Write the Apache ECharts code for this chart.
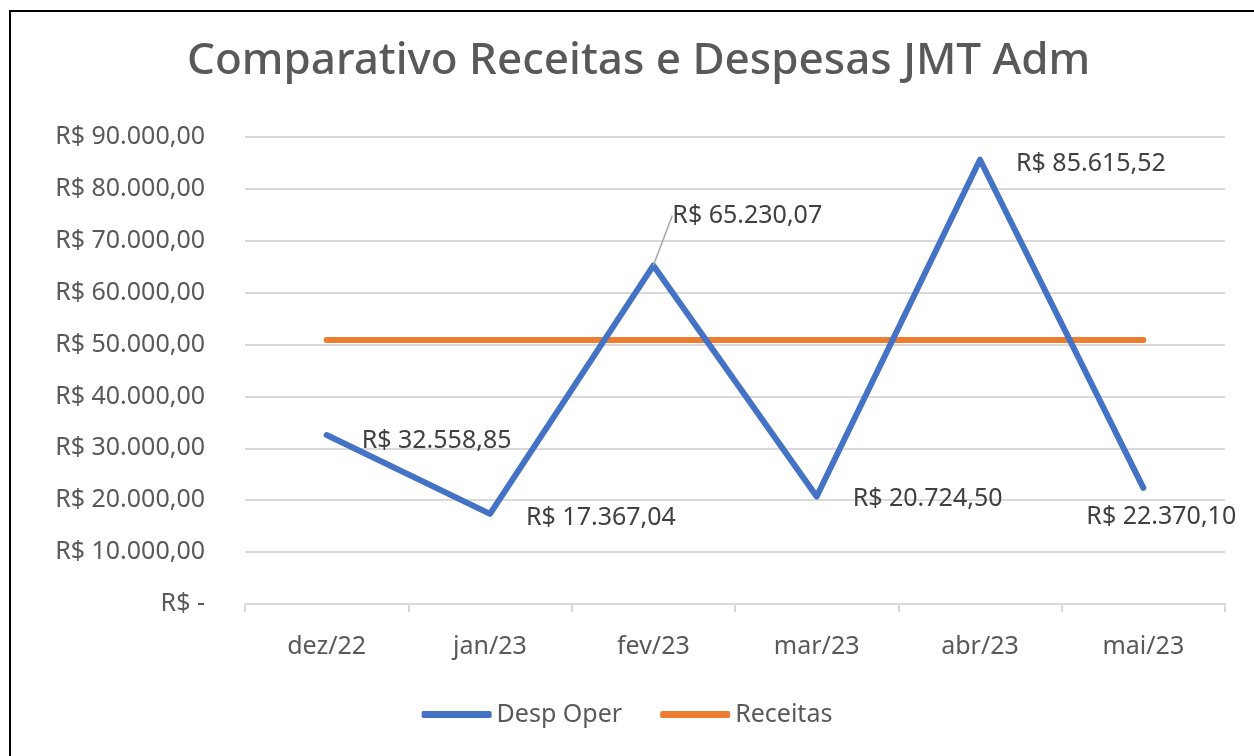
<!DOCTYPE html>
<html>
<head>
<meta charset="utf-8">
<script src="https://cdn.jsdelivr.net/npm/echarts@6/dist/echarts.min.js"></script>
<style>
  html, body { margin: 0; padding: 0; background: #fff; }
  #chart { width: 1254px; height: 756px; }
</style>
</head>
<body>
<div id="chart"></div>
<script>
// dados
var meses = ['dez/22', 'jan/23', 'fev/23', 'mar/23', 'abr/23', 'mai/23'];
var despOper = [32558.85, 17367.04, 65230.07, 20724.50, 85615.52, 22370.10];
var receitas = [50900, 50900, 50900, 50900, 50900, 50900];

var fonte = 'Noto Sans';

function moeda(v) {
    if (v === 0) return 'R$ -';
    var partes = v.toFixed(2).split('.');
    var inteiro = partes[0].replace(/\B(?=(\d{3})+(?!\d))/g, '.');
    return 'R$ ' + inteiro + ',' + partes[1];
}

// deslocamento dos rótulos de cada ponto (parecido com o Excel)
var desloc = [[30, 6], [31, 4], [14, -50], [31, 2], [31, 4], [-62, 29]];

var despData = despOper.map(function (v, i) {
    return {
        value: v,
        labelLine: { show: i === 2 }
    };
});

var myChart = echarts.init(document.getElementById('chart'));

var option = {
    animation: false,
    title: {
        text: 'Comparativo Receitas e Despesas JMT Adm',
        left: 182,
        top: 34,
        textStyle: {
            fontFamily: fonte,
            fontSize: 44,
            fontWeight: 500,
            color: '#595959'
        }
    },
    graphic: [{
        type: 'rect',
        shape: { x: 10, y: 11, width: 1260, height: 770 },
        style: { fill: 'none', stroke: '#000', lineWidth: 2 },
        silent: true
    }],
    legend: {
        bottom: 24,
        left: 'center',
        icon: 'roundRect',
        itemWidth: 70,
        itemHeight: 7,
        itemGap: 38,
        textStyle: { fontFamily: fonte, fontSize: 25, color: '#595959' },
        data: ['Desp Oper', 'Receitas']
    },
    grid: { left: 245, right: 29, top: 137, bottom: 152 },
    xAxis: {
        type: 'category',
        data: meses,
        axisLine: { lineStyle: { color: '#D9D9D9', width: 2 } },
        axisTick: { show: true, length: 8, lineStyle: { color: '#D9D9D9', width: 2 } },
        axisLabel: { margin: 30, fontFamily: fonte, fontSize: 25, color: '#595959' }
    },
    yAxis: {
        type: 'value',
        min: 0,
        max: 90000,
        interval: 10000,
        axisLine: { show: false },
        axisTick: { show: false },
        splitLine: { lineStyle: { color: '#D9D9D9', width: 2 } },
        axisLabel: {
            margin: 40,
            fontFamily: fonte,
            fontSize: 25,
            color: '#595959',
            formatter: function (v) { return moeda(v); }
        }
    },
    series: [{
        name: 'Desp Oper',
        type: 'line',
        data: despData,
        symbol: 'circle',
        symbolSize: 0,
        lineStyle: { color: '#4472C4', width: 6, cap: 'round', join: 'round' },
        itemStyle: { color: '#4472C4' },
        label: {
            show: true,
            position: 'right',
            fontFamily: fonte,
            fontSize: 25,
            color: '#404040',
            formatter: function (p) { return moeda(p.value); }
        },
        labelLine: { show: false, lineStyle: { color: '#A6A6A6', width: 1.5 } },
        labelLayout: function (p) {
            var d = desloc[p.dataIndex];
            return { dx: d[0], dy: d[1] };
        },
        z: 3
    }, {
        name: 'Receitas',
        type: 'line',
        data: receitas,
        symbol: 'none',
        lineStyle: { color: '#ED7D31', width: 6, cap: 'round' },
        itemStyle: { color: '#ED7D31' },
        z: 2
    }]
};

myChart.setOption(option);
</script>
</body>
</html>
